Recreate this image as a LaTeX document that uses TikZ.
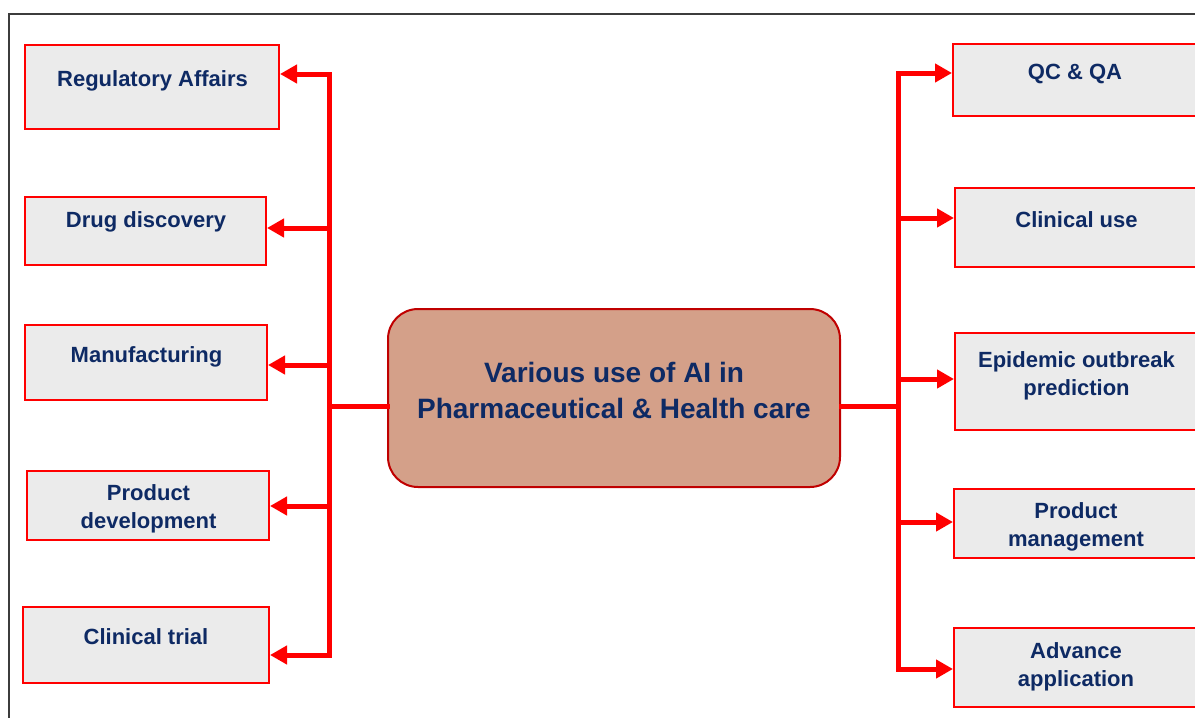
\documentclass[tikz,border=0pt]{standalone}
\usepackage{fontspec}
\setmainfont{Liberation Sans}
\usetikzlibrary{arrows.meta}
\definecolor{boxred}{RGB}{255,0,0}
\definecolor{boxgray}{RGB}{235,235,235}
\definecolor{navytext}{RGB}{14,42,100}
\definecolor{hubfill}{RGB}{212,160,137}
\definecolor{hubline}{RGB}{192,0,0}
\definecolor{framecol}{RGB}{60,60,60}
\tikzset{
  box/.style={draw=boxred, fill=boxgray, line width=2pt, inner sep=0pt},
  lbl/.style={font=\bfseries\fontsize{22}{28}\selectfont, text=navytext, align=center, anchor=base, inner sep=0pt},
  hub/.style={draw=hubline, fill=hubfill, line width=2pt, rounded corners=30pt, inner sep=0pt},
  hublbl/.style={font=\bfseries\fontsize{28}{36}\selectfont, text=navytext, align=center, anchor=base, inner sep=0pt},
  busline/.style={draw=boxred, line width=5pt, line cap=rect},
  arr/.style={draw=boxred, line width=5pt, -{Triangle[length=17pt,width=18pt]}},
}
\begin{document}
\begin{tikzpicture}[x=1pt,y=-1pt]
\useasboundingbox (0,0) rectangle (1195,718);
% frame
\draw[framecol, line width=1.5pt] (1200,14) -- (9,14) -- (9,725);

% hub
\node[hub, minimum width=452pt, minimum height=178pt] (hub) at (614,398) {};
\node[hublbl] (hubt) at (614,418) {Various use of AI in\\Pharmaceutical \& Health care};

% left boxes
\node[box, minimum width=254pt, minimum height=84pt] (ra) at (152,87) {};
\node[lbl] (rat) at (152.5,86) {Regulatory Affairs};
\node[box, minimum width=241pt, minimum height=68pt] (dd) at (145.5,231) {};
\node[lbl] (ddt) at (146,227) {Drug discovery};
\node[box, minimum width=242pt, minimum height=75pt] (mf) at (146,362.5) {};
\node[lbl] (mft) at (146.5,362) {Manufacturing};
\node[box, minimum width=242pt, minimum height=69pt] (pd) at (148,505.5) {};
\node[lbl] (pdt) at (148.5,528) {Product\\development};
\node[box, minimum width=246pt, minimum height=76pt] (ct) at (146,645) {};
\node[lbl] (ctt) at (146,644) {Clinical trial};

% right boxes
\node[box, minimum width=245pt, minimum height=72pt] (qc) at (1075.5,80) {};
\node[lbl] (qct) at (1075,79) {QC \& QA};
\node[box, minimum width=243pt, minimum height=79pt] (cu) at (1076.5,227.5) {};
\node[lbl] (cut) at (1076.5,227) {Clinical use};
\node[box, minimum width=243pt, minimum height=97pt] (ep) at (1076.5,381.5) {};
\node[lbl] (ept) at (1076.5,395) {Epidemic outbreak\\prediction};
\node[box, minimum width=244pt, minimum height=69pt] (pm) at (1076,523.5) {};
\node[lbl] (pmt) at (1076,546) {Product\\management};
\node[box, minimum width=244pt, minimum height=79pt] (aa) at (1076,667.5) {};
\node[lbl] (aat) at (1076,686) {Advance\\application};

% left bus
\coordinate (L1) at (329,74);
\coordinate (L2) at (329,228);
\coordinate (L3) at (329,365);
\coordinate (Lc) at (329,406);
\coordinate (L4) at (329,506);
\coordinate (L5) at (329,655);
\draw[busline] (L1) -- (L5);
\draw[busline] (Lc) -- (hub.west |- Lc);
\draw[arr] (L1) -- (ra.east |- L1);
\draw[arr] (L2) -- (dd.east |- L2);
\draw[arr] (L3) -- (mf.east |- L3);
\draw[arr] (L4) -- (pd.east |- L4);
\draw[arr] (L5) -- (ct.east |- L5);

% right bus
\coordinate (R1) at (898,73);
\coordinate (R2) at (898,218);
\coordinate (R3) at (898,379);
\coordinate (Rc) at (898,406);
\coordinate (R4) at (898,522);
\coordinate (R5) at (898,669);
\draw[busline] (R1) -- (R5);
\draw[busline] (hub.east |- Rc) -- (Rc);
\draw[arr] (R1) -- (qc.west |- R1);
\draw[arr] (R2) -- (cu.west |- R2);
\draw[arr] (R3) -- (ep.west |- R3);
\draw[arr] (R4) -- (pm.west |- R4);
\draw[arr] (R5) -- (aa.west |- R5);
\end{tikzpicture}
\end{document}
